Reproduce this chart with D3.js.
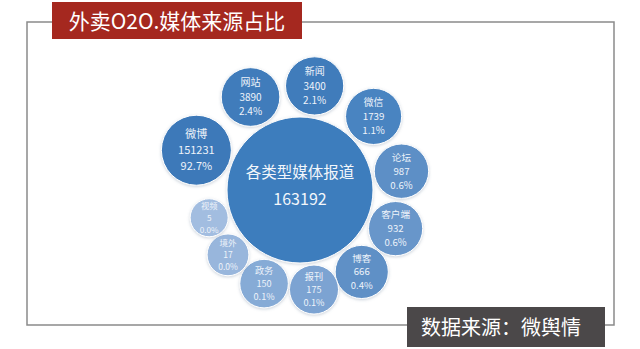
<!DOCTYPE html>
<html>
<head>
<meta charset="utf-8">
<script src="https://cdn.jsdelivr.net/npm/d3@7"></script>
<style>
  html, body { margin: 0; padding: 0; background: #ffffff; }
  svg { display: block; font-family: "Noto Sans CJK SC", "Microsoft YaHei", sans-serif; }
</style>
</head>
<body>
<svg id="chart" width="640" height="349"></svg>
<script>
// Media sources for food-delivery O2O coverage
const titleText = "外卖O2O.媒体来源占比";
const sourceText = "数据来源：微舆情";
const totalLabel = "各类型媒体报道";
const totalValue = 163192;

const sources = ["微博", "网站", "新闻", "微信", "论坛", "客户端", "博客", "报刊", "政务", "境外", "视频"];
const counts  = [151231, 3890, 3400, 1739, 987, 932, 666, 175, 150, 17, 5];
const shares  = ["92.7%", "2.4%", "2.1%", "1.1%", "0.6%", "0.6%", "0.4%", "0.1%", "0.1%", "0.0%", "0.0%"];

// Layout: angle (degrees, clockwise from the +x axis) of each bubble around the hub
const angles = [201, 242, 278, 315, 349.5, 22, 53, 82, 111, 138, 163];
const fills  = ["#3c79b9", "#3f7cbb", "#3f7cbb", "#4a84c1", "#5d8fc6", "#6896ca", "#5f90c6",
                "#7ca3d2", "#86abd6", "#98b6dc", "#a2bde0"];

const svg = d3.select("#chart");

// Outer frame
svg.append("rect")
  .attr("x", 27).attr("y", 22).attr("width", 587).attr("height", 303)
  .attr("fill", "none").attr("stroke", "#8a8a8a").attr("stroke-width", 1.5);

// Soft shadow for the bubbles
const defs = svg.append("defs");
const f = defs.append("filter").attr("id", "shadow")
  .attr("x", "-20%").attr("y", "-20%").attr("width", "140%").attr("height", "140%");
f.append("feDropShadow").attr("dx", 0).attr("dy", 1).attr("stdDeviation", 1.5)
  .attr("flood-color", "#6a7f99").attr("flood-opacity", 0.35);

const cx = 300, cy = 190, hubR = 73, gap = 3;

const rScale = d3.scaleLog().domain([d3.min(counts), d3.max(counts)]).range([19, 35]);
const fontScale = d3.scaleLinear().domain([19, 35]).range([8.2, 11]);

// Hub
svg.append("circle")
  .attr("cx", cx).attr("cy", cy).attr("r", hubR)
  .attr("fill", "#3e7dbd").attr("stroke", "#ffffff").attr("stroke-width", 1)
  .attr("filter", "url(#shadow)");
svg.append("text")
  .attr("x", cx).attr("y", cy - 12)
  .attr("text-anchor", "middle").attr("font-size", 15.5).attr("fill", "#f2f6fb")
  .text(totalLabel);
svg.append("text")
  .attr("x", cx).attr("y", cy + 15)
  .attr("text-anchor", "middle").attr("font-size", 16).attr("fill", "#f2f6fb")
  .text(totalValue);

// Satellite bubbles
const nodes = sources.map((name, i) => {
  const r = rScale(counts[i]);
  const a = angles[i] * Math.PI / 180;
  const d = hubR + r + gap;
  return { name, value: counts[i], share: shares[i], r, x: cx + d * Math.cos(a), y: cy + d * Math.sin(a), fill: fills[i] };
});

const g = svg.selectAll("g.bubble").data(nodes).join("g")
  .attr("class", "bubble")
  .attr("transform", d => `translate(${d.x},${d.y})`);

g.append("circle")
  .attr("r", d => d.r)
  .attr("fill", d => d.fill)
  .attr("stroke", "#ffffff").attr("stroke-width", 1)
  .attr("filter", "url(#shadow)");

g.each(function (d) {
  const fs = fontScale(d.r);
  const lh = fs * 1.45;
  const lines = [d.name, String(d.value), d.share];
  d3.select(this).selectAll("text").data(lines).join("text")
    .attr("text-anchor", "middle")
    .attr("font-size", fs)
    .attr("fill", "#eef3fa")
    .attr("y", (t, i) => (i - 1) * lh + fs * 0.36)
    .text(t => t);
});

// Title banner
svg.append("rect")
  .attr("x", 52).attr("y", 2).attr("width", 250).attr("height", 37)
  .attr("fill", "#a5281f");
svg.append("text")
  .attr("x", 177).attr("y", 29)
  .attr("text-anchor", "middle").attr("font-size", 21).attr("fill", "#ffffff")
  .text(titleText);

// Source banner
svg.append("rect")
  .attr("x", 407).attr("y", 307).attr("width", 198).attr("height", 40)
  .attr("fill", "#4b4849");
svg.append("text")
  .attr("x", 501).attr("y", 335)
  .attr("text-anchor", "middle").attr("font-size", 20).attr("fill", "#ffffff")
  .text(sourceText);
</script>
</body>
</html>
